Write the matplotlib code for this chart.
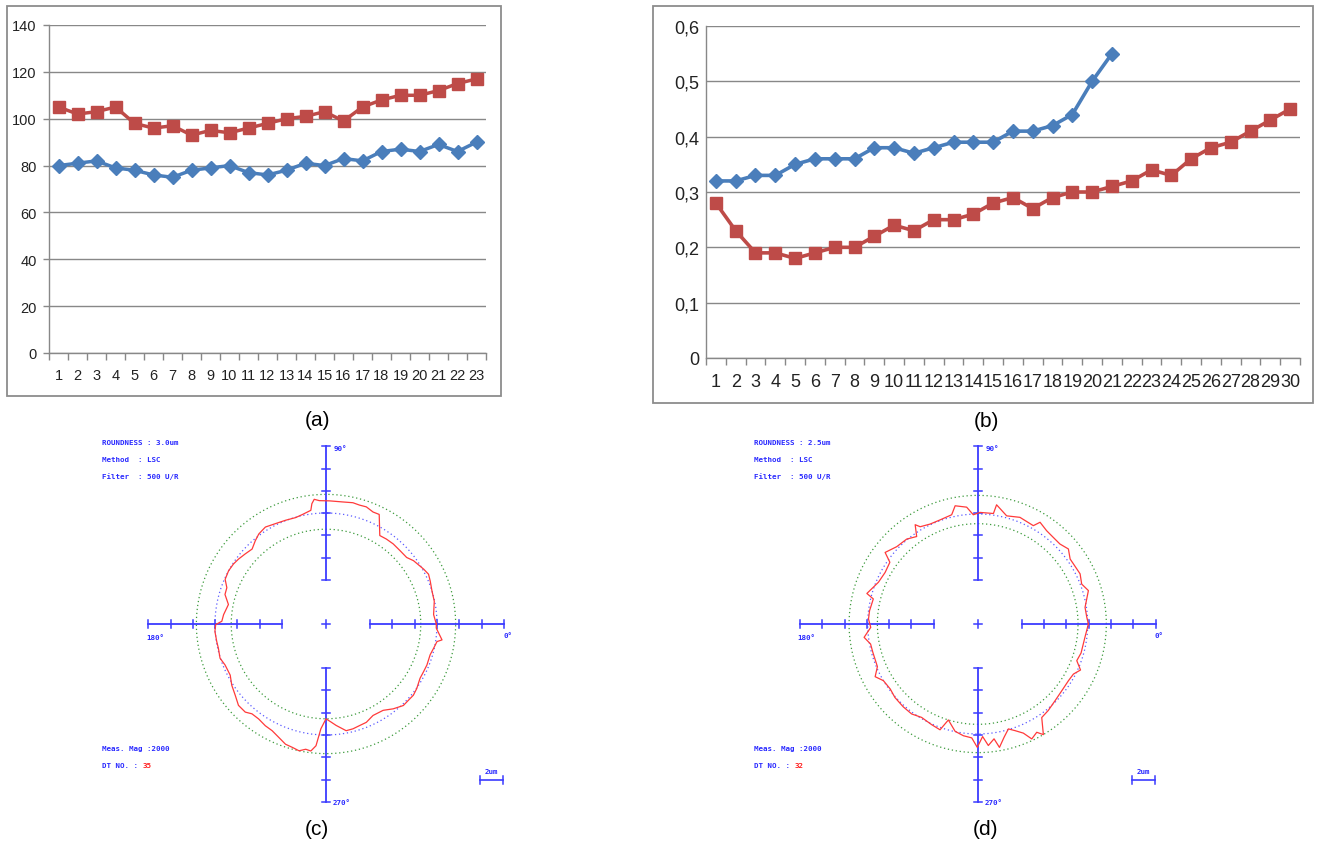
import numpy as np
import matplotlib
matplotlib.use("Agg")
import matplotlib.pyplot as plt
from matplotlib.patches import Rectangle

# ---------------- data ----------------
# (a)
a_x = np.arange(1, 24)
a_blue = [80, 81, 82, 79, 78, 76, 75, 78, 79, 80, 77, 76, 78, 81, 80, 83, 82, 86, 87, 86, 89, 86, 90]
a_red = [105, 102, 103, 105, 98, 96, 97, 93, 95, 94, 96, 98, 100, 101, 103, 99, 105, 108, 110, 110, 112, 115, 117]
a_yticks = [0, 20, 40, 60, 80, 100, 120, 140]

# (b)
b_x = np.arange(1, 31)
b_blue = [0.32, 0.32, 0.33, 0.33, 0.35, 0.36, 0.36, 0.36, 0.38, 0.38, 0.37, 0.38, 0.39, 0.39, 0.39,
          0.41, 0.41, 0.42, 0.44, 0.50, 0.55]
b_red = [0.28, 0.23, 0.19, 0.19, 0.18, 0.19, 0.20, 0.20, 0.22, 0.24, 0.23, 0.25, 0.25, 0.26, 0.28,
         0.29, 0.27, 0.29, 0.30, 0.30, 0.31, 0.32, 0.34, 0.33, 0.36, 0.38, 0.39, 0.41, 0.43, 0.45]
b_yticks = [0, 0.1, 0.2, 0.3, 0.4, 0.5, 0.6]
b_ylabels = ["0", "0,1", "0,2", "0,3", "0,4", "0,5", "0,6"]

# (c) roundness profile: angle (deg) and deviation from LSC circle (um)
c_ang = [0, 5.0, 11.9, 17.3, 22.4, 25.9, 29.3, 35.9, 39.5, 44.7,
         50.0, 54.6, 58.7, 64.1, 67.2, 71.0, 74.2, 77.5, 82.2, 88.4,
         93.1, 95.4, 96.7, 97.6, 102.1, 105.9, 111.3, 116.7, 122.0, 126.7,
         130.3, 134.6, 139.1, 143.4, 147.1, 151.4, 156.1, 159.9, 163.7, 168.7,
         174.8, 178.5, 180.3, 183.8, 189.1, 192.7, 197.9, 202.1, 208.1, 213.0,
         218.1, 222.9, 227.5, 230.5, 234.6, 239.2, 243.2, 247.4, 251.4, 254.8,
         258.0, 260.8, 263.2, 265.3, 267.2, 270.0, 272.9, 275.7, 280.7, 284.4,
         288.3, 292.3, 297.2, 303.5, 308.4, 313.5, 318.4, 320.8, 324.6, 330.0,
         333.9, 337.9, 343.5, 347.3, 351.0, 352.2, 357.9]
c_dev = [-0.06, -0.26, -0.03, 0.00, 0.15, 0.26, 0.09, -0.26, -0.56, -0.59,
         -0.56, -0.59, -0.65, 0.94, 0.91, 1.12, 1.09, 1.15, 1.06, 1.06,
         1.09, 1.24, 0.88, 0.32, 0.09, -0.03, 0.03, 0.12, 0.29, 0.12,
         -0.15, -0.50, -0.35, -0.18, -0.06, 0.00, -0.06, -0.47, -0.50, -1.00,
         -0.71, -0.59, -0.06, 0.03, -0.03, -0.06, 0.03, -0.18, -0.21, 0.12,
         0.38, 0.74, 0.74, 0.47, 0.47, 0.65, 0.74, 1.03, 1.38, 1.47,
         1.62, 1.38, 1.47, 0.97, -0.53, -1.41, -1.12, -0.79, -0.21, -0.24,
         -0.35, -0.41, -0.71, -0.65, -0.24, 0.12, 0.12, 0.15, 0.03, -0.21,
         -0.21, -0.18, -0.21, -0.06, 0.12, 0.53, -0.06]

# (d)
d_ang = [0, 3.5, 8.8, 16.8, 21.0, 26.1, 35.1, 39.6, 44.2, 48.9,
         53.5, 58.5, 60.5, 68.4, 75.0, 81.0, 81.9, 88.8, 92.3, 95.4,
         100.8, 103.4, 109.9, 115.5, 120.6, 122.2, 124.9, 129.9, 136.3, 142.3,
         144.9, 150.9, 157.2, 164.6, 166.5, 173.0, 177.4, 181.8, 186.7, 190.6,
         195.1, 203.0, 207.2, 211.0, 216.6, 221.6, 228.0, 233.7, 239.0, 245.4,
         250.4, 253.0, 258.1, 262.7, 267.0, 269.8, 272.5, 275.0, 278.1, 280.0,
         283.1, 286.3, 289.3, 292.7, 295.2, 298.6, 300.7, 304.4, 309.2, 315.2,
         321.6, 328.0, 332.4, 335.9, 339.7, 344.3, 352.9]
d_dev = [0.06, -0.06, -0.12, 0.49, 0.12, 0.35, 0.26, 0.67, 0.41, 0.43,
         0.52, 0.81, 0.26, 0.41, 0.17, 0.93, 0.14, 0.14, -0.06, 0.64,
         0.90, 0.20, 0.06, 0.06, 0.26, 0.64, -0.29, 0.06, 0.17, 0.61,
         -0.23, -0.35, -0.20, 0.43, -0.23, -0.09, -0.06, -0.26, 0.38, -0.09,
         -0.12, -0.09, 0.46, 0.00, -0.09, 0.06, 0.12, 0.14, -0.09, 0.06,
         0.20, -0.84, -0.03, 0.23, 0.35, 1.16, 0.23, 1.04, 0.52, 1.33,
         0.55, -0.06, 0.26, 0.72, 1.48, 1.16, 1.62, 0.29, 0.14, -0.09,
         -0.23, -0.26, -0.17, 0.23, -0.38, -0.23, -0.17]

c_info = ["ROUNDNESS : 3.0um", "Method  : LSC", "Filter  : 500 U/R"]
d_info = ["ROUNDNESS : 2.5um", "Method  : LSC", "Filter  : 500 U/R"]
c_dtno = "35"
d_dtno = "32"

# ---------------- styles ----------------
W, H = 1320, 845
BLUE = "#4A7EBB"
RED = "#BE4B48"
GRID = "#888888"
FONT = ["Liberation Sans", "DejaVu Sans"]
PXUM = 11.5          # px per um in the roundness plots

fig = plt.figure(figsize=(W / 100, H / 100), dpi=100)


def px_axes(x0, y0, x1, y1):
    return fig.add_axes([x0 / W, 1 - y1 / H, (x1 - x0) / W, (y1 - y0) / H])


def frame(x0, y0, x1, y1):
    fig.add_artist(Rectangle((x0 / W, 1 - y1 / H), (x1 - x0) / W, (y1 - y0) / H,
                             transform=fig.transFigure, fill=False, ec="#8c8c8c", lw=1.3))


def excel_chart(box, area, xs, blue, red, ylim, yticks, ylabels, fs, ms, lw, ytick_len):
    frame(*box)
    ax = px_axes(*area)
    ax.plot(xs[:len(blue)], blue, color=BLUE, lw=lw, marker="D", ms=ms * 0.8,
            mfc=BLUE, mec=BLUE, zorder=3, clip_on=False)
    ax.plot(xs[:len(red)], red, color=RED, lw=lw, marker="s", ms=ms,
            mfc=RED, mec=RED, zorder=3, clip_on=False)
    n = len(xs)
    ax.set_xlim(0.5, n + 0.5)
    ax.set_ylim(*ylim)
    ax.set_yticks(yticks)
    ax.set_yticklabels(ylabels, family=FONT, fontsize=fs, color="#222222")
    ax.set_xticks(xs)
    ax.set_xticklabels([str(v) for v in xs], family=FONT, fontsize=fs, color="#222222")
    ax.set_xticks(np.arange(0.5, n + 1), minor=True)
    ax.tick_params(axis="x", which="major", length=0, pad=11)
    ax.tick_params(axis="x", which="minor", length=5, color=GRID, width=1)
    ax.tick_params(axis="y", length=ytick_len, color=GRID, width=1, pad=5)
    ax.grid(axis="y", color=GRID, lw=1)
    ax.set_axisbelow(True)
    for s in ["top", "right"]:
        ax.spines[s].set_visible(False)
    for s in ["left", "bottom"]:
        ax.spines[s].set_color(GRID)
        ax.spines[s].set_linewidth(1)
    return ax


excel_chart((7, 7, 501, 397), (49, 26, 486, 354), a_x, a_blue, a_red, (0, 140),
            a_yticks, [str(v) for v in a_yticks], 10.5, 8.5, 2.5, 4)
excel_chart((653, 7, 1313, 404), (706, 27, 1300, 359), b_x, b_blue, b_red, (0, 0.6),
            b_yticks, b_ylabels, 13, 9, 2.6, 0)

# ---------------- roundness plots ----------------
AXBLUE = "#3b3bff"
TXTBLUE = "#2a2aff"
GREEN = "#3c9a3c"
LSC = "#5a5aff"
PROF = "#ff3a3a"


def roundness(box, centre, R0, ang, dev, info, dtno):
    x0, y0, x1, y1 = box
    cx, cy = centre
    ax = px_axes(x0, y0, x1, y1)
    ax.set_xlim(x0 - cx, x1 - cx)
    ax.set_ylim(cy - y1, cy - y0)
    ax.axis("off")
    t = np.linspace(0, 2 * np.pi, 500)
    dev = np.asarray(dev)
    for rad, col in [(R0 + PXUM * dev.max(), GREEN), (R0 + PXUM * dev.min(), GREEN), (R0, LSC)]:
        ax.plot(rad * np.cos(t), rad * np.sin(t), color=col, lw=0.9, ls=(0, (1, 2.2)))
    # cross hair axes with ticks
    for ux, uy in [(1, 0), (0, 1), (-1, 0), (0, -1)]:
        ax.plot([44 * ux, 178 * ux], [44 * uy, 178 * uy], color=AXBLUE, lw=1.3)
        for k in range(7):
            d = 44 + 22.3 * k
            ax.plot([d * ux - 4 * uy, d * ux + 4 * uy], [d * uy - 4 * ux, d * uy + 4 * ux],
                    color=AXBLUE, lw=1.1)
    ax.plot([-4, 4], [0, 0], color=AXBLUE, lw=1.1)
    ax.plot([0, 0], [-4, 4], color=AXBLUE, lw=1.1)
    # profile
    th = np.radians(np.append(ang, ang[0] + 360))
    r = R0 + PXUM * np.append(dev, dev[0])
    ax.plot(r * np.cos(th), r * np.sin(th), color=PROF, lw=0.9)

    kw = dict(family="DejaVu Sans Mono", fontsize=5.4, weight="bold", color=TXTBLUE,
              va="center", ha="left")
    ax.text(8, 176, "90°", **kw)
    ax.text(7, -178, "270°", **kw)
    ax.text(-180, -13, "180°", **kw)
    ax.text(177, -11, "0°", **kw)
    for i, s in enumerate(info):
        ax.text(-224, 182 - 17 * i, s, **kw)
    ax.text(-224, -124, "Meas. Mag :2000", **kw)
    ax.text(-224, -141, "DT NO. : ", **kw)
    kw2 = dict(kw, color="#ff2020")
    ax.text(-224 + 40.6, -141, dtno, **kw2)
    # 2um scale bar
    ax.plot([154, 177], [-156, -156], color=AXBLUE, lw=1.2)
    ax.plot([154, 154], [-152, -160], color=AXBLUE, lw=1.1)
    ax.plot([177, 177], [-152, -160], color=AXBLUE, lw=1.1)
    ax.text(165.5, -147, "2um", **dict(kw, ha="center"))


roundness((80, 428, 600, 815), (326, 625), 111, c_ang, c_dev, c_info, c_dtno)
roundness((731, 428, 1251, 815), (977.7, 625), 110, d_ang, d_dev, d_info, d_dtno)

# panel labels
for s, x, y in [("(a)", 317, 421), ("(b)", 986, 422), ("(c)", 317, 830), ("(d)", 986, 830)]:
    fig.text(x / W, 1 - y / H, s, family="Liberation Sans", fontsize=15, ha="center", va="center")

fig.savefig("out.png", dpi=100)
